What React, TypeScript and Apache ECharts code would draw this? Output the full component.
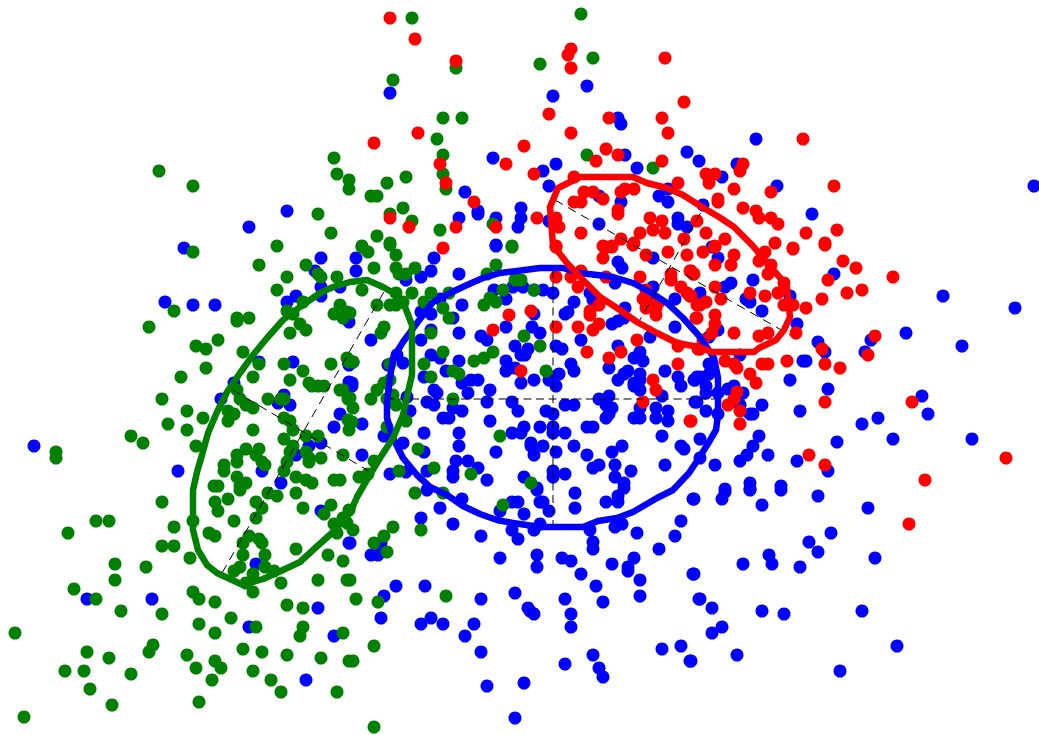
import { useEffect, useRef } from 'react'
import * as echarts from 'echarts'

type Pt = [number, number]

// values, on axes 0..1039 and 0..735 (y goes down)
const bluePoints: Pt[] = [
  [287,211],[249,227],[184,248],[390,93],[553,96],[587,86],[618,118],[621,124],[493,158],[556,164],[543,171],[549,186],
  [625,155],[637,168],[687,152],[699,161],[465,192],[478,211],[478,214],[459,218],[496,218],[521,208],[521,218],[518,227],
  [549,221],[599,196],[621,202],[599,224],[659,196],[668,189],[668,202],[678,218],[678,224],[687,227],[496,246],
  [756,139],[737,164],[722,177],[777,186],[1034,186],[812,214],[703,205],
  [321,258],[315,271],[321,287],[340,287],[321,296],[296,296],[287,302],[165,302],[193,305],[215,305],[349,322],[259,362],
  [293,362],[234,383],[349,382],[284,395],[278,403],[290,405],[221,399],[340,414],[334,427],[321,443],[309,446],[296,455],
  [34,446],[178,471],[262,471],[281,483],[349,365],
  [356,258],[356,271],[434,258],[431,271],[421,277],[406,280],[459,274],[496,245],[494,290],[513,287],[523,287],[534,290],
  [543,290],[553,293],[506,299],[440,299],[462,305],[421,312],[431,314],[453,318],[431,330],[459,333],[421,340],[481,336],
  [487,340],[506,327],[534,314],[532,327],[540,333],[515,346],[528,349],[521,355],[525,355],[565,314],[568,312],[574,302],
  [590,293],[593,300],[581,340],[556,346],[562,349],[571,364],[574,371],[431,355],[440,358],[459,361],[506,361],[515,368],
  [506,371],[446,371],[424,377],[462,383],[471,380],[478,380],[468,393],[434,390],[437,393],[490,390],[521,383],[534,380],
  [549,380],[559,374],[556,386],[427,402],[434,405],[453,408],[462,411],[443,418],[449,418],[487,402],[512,402],[518,411],
  [490,421],[546,411],[553,414],[540,427],[553,427],[553,433],[524,427],[512,433],[521,433],[424,433],[459,433],[459,446],
  [565,433],[531,443],[531,446],[543,446],[534,455],[496,452],[556,452],[574,446],[587,455],[587,427],[593,427],[565,405],
  [574,405],[599,399],[609,396],[606,405],[612,408],[609,414],[606,418],[634,418],[640,418],[640,408],[656,408],[656,418],
  [668,411],[668,421],[662,436],[681,446],[684,449],[662,396],[695,402],[622,446],[612,452],[615,465],[599,465],[593,468],
  [631,471],[665,465],[615,477],[624,483],[624,488],[565,474],[553,471],[553,477],[524,477],[537,488],[487,480],[456,461],
  [453,471],[453,477],[468,461],[478,468],[427,471],[390,474],[406,472],[362,455],[424,452],[403,443],[384,436],[362,424],
  [410,411],[618,346],[640,352],[634,358],[643,361],[609,368],[628,371],[624,374],[618,380],[640,374],[640,380],[634,383],
  [634,386],[640,390],[665,371],[678,377],[695,380],[681,386],[700,377],[675,327],[650,337],[675,299],[653,287],[625,308],
  [615,283],[653,258],[618,262],[622,268],[612,324],[618,321],[624,318],[397,355],[403,363],[353,362],[352,383],[352,386],
  [388,365],[371,340],[407,397],
  [712,247],[718,258],[834,274],[753,280],[731,283],[725,287],[700,293],[790,296],[746,299],[750,302],[762,311],[797,324],
  [718,330],[709,337],[943,296],[1015,308],[906,333],[962,346],[871,340],[818,342],[825,352],[865,352],[803,361],[806,361],
  [740,355],[709,364],[712,368],[709,374],[697,377],[694,380],[706,386],[706,393],[718,393],[728,389],[734,386],[743,393],
  [740,405],[762,405],[790,380],[828,389],[697,402],[706,411],[718,414],[750,414],[753,414],[800,411],[922,396],[928,414],
  [878,418],[862,424],[893,439],[972,439],[837,442],[759,436],[700,439],[753,446],[747,455],[740,461],[768,455],[797,461],
  [715,465],[828,471],[700,458],[725,489],[750,483],[750,489],[781,486],
  [321,511],[349,543],[256,564],[87,599],[152,599],[318,608],[249,627],[334,636],[306,680],
  [427,490],[462,499],[440,508],[421,518],[453,524],[481,536],[500,511],[512,502],[518,502],[524,514],[537,490],[540,502],
  [543,502],[549,511],[540,524],[512,530],[518,539],[534,530],[575,493],[575,508],[606,502],[618,496],[618,502],[590,530],
  [593,542],[593,549],[615,527],[622,524],[637,533],[693,499],[681,521],[675,536],[659,549],[500,558],[537,555],[537,567],
  [562,558],[571,561],[581,574],[612,564],[634,558],[628,567],[628,571],[640,580],[693,574],[596,586],[603,602],[640,596],
  [699,599],[565,599],[515,593],[481,599],[425,586],[396,586],[384,596],[381,618],[431,618],[421,624],[443,624],[474,624],
  [465,636],[481,652],[528,608],[534,614],[530,611],[571,614],[571,627],[565,664],[593,655],[599,668],[603,677],[662,649],
  [681,646],[690,661],[487,686],[524,683],[515,718],[371,555],[378,555],[381,543],[350,543],
  [694,499],[722,499],[725,492],[750,490],[762,505],[781,490],[818,496],[868,508],[831,533],[809,542],[818,552],[875,558],
  [769,555],[772,564],[743,564],[800,567],[694,574],[700,599],[712,608],[762,611],[784,614],[862,611],[722,627],[712,633],
  [737,655],[897,646],[840,671],[691,661],
]

const greenPoints: Pt[] = [
  [159,171],[193,186],[334,158],[337,174],[349,180],[349,189],[318,214],[331,233],[277,246],
  [412,18],[581,14],[456,68],[540,64],[593,58],[393,80],[443,118],[462,118],[437,139],[443,155],[443,174],[446,189],[406,177],
  [387,183],[371,196],[377,196],[403,208],[390,214],[412,221],[440,230],[377,236],[390,243],[362,246],[493,224],[512,246],
  [587,155],[653,168],
  [193,252],[259,265],[306,265],[318,274],[321,277],[287,277],[337,277],[277,290],[303,302],[174,311],[149,327],[287,311],
  [293,314],[237,318],[237,321],[249,318],[300,324],[306,330],[290,333],[340,305],[334,314],[343,318],[347,312],[218,340],
  [196,346],[206,349],[243,352],[259,364],[206,368],[284,364],[303,371],[331,364],[347,358],[349,362],[181,377],[253,377],
  [290,380],[309,383],[312,386],[318,386],[324,386],[340,390],[343,390],[348,399],[237,390],[240,399],[246,405],[253,408],
  [268,399],[281,399],[284,399],[162,399],[187,411],[203,418],[228,411],[234,414],[228,421],[168,424],[187,430],[253,430],
  [284,418],[290,421],[293,430],[131,436],[143,443],[284,439],[306,436],[318,436],[196,446],[293,446],[290,452],[306,452],
  [309,458],[309,462],[321,458],[343,455],[349,430],[348,420],[56,452],[56,458],[246,449],[259,449],[237,455],[237,462],
  [256,455],[262,462],[265,465],[224,465],[224,471],[287,462],[284,471],[237,477],[296,477],[306,480],[312,483],[246,483],
  [240,486],[334,480],[340,480],[214,486],[218,486],[268,493],[296,493],
  [362,247],[368,252],[390,245],[396,255],[374,268],[396,268],[399,274],[406,274],[415,268],[512,247],[496,265],[487,274],
  [515,280],[521,280],[503,290],[534,290],[490,298],[496,302],[484,305],[449,293],[431,293],[424,302],[443,308],[449,318],
  [412,293],[396,293],[390,305],[396,305],[403,302],[362,290],[377,305],[384,327],[381,333],[431,333],[443,352],[424,364],
  [431,377],[453,371],[459,374],[474,361],[484,358],[493,352],[524,336],[540,346],[546,371],[453,399],[390,364],[390,380],
  [384,383],[377,390],[371,399],[387,399],[393,395],[393,402],[396,405],[406,421],[387,427],[500,436],[418,449],[374,461],
  [399,471],[434,468],[471,474],[531,483],[359,477],[368,474],[415,493],[443,493],[350,313],[353,362],[350,398],[353,408],
  [352,422],
  [162,502],[96,521],[109,521],[68,533],[174,527],[193,521],[162,546],[174,546],[209,533],[215,536],[215,502],[218,511],
  [228,499],[240,490],[256,502],[262,508],[256,518],[234,521],[277,496],[303,508],[331,505],[324,514],[334,524],[343,518],
  [337,533],[349,510],[347,523],[249,536],[243,543],[259,539],[262,543],[243,555],[265,555],[296,549],[328,555],[343,561],
  [190,558],[115,564],[146,567],[115,580],[74,589],[96,599],[234,571],[240,567],[265,567],[253,574],[274,571],[246,583],
  [281,583],[318,580],[347,580],[193,592],[199,599],[215,602],[253,592],[287,605],[303,608],[162,614],[121,611],[15,633],
  [199,624],[215,633],[231,618],[256,627],[303,627],[300,636],[343,633],[243,649],[262,652],[287,655],[321,658],[349,661],
  [153,645],[149,652],[87,652],[109,658],[187,655],[215,661],[221,668],[196,668],[253,671],[271,680],[212,680],[281,692],
  [337,692],[65,671],[84,671],[131,674],[90,689],[112,705],[199,702],[24,717],
  [503,505],[393,527],[353,530],[384,536],[374,543],[387,552],[421,530],[446,596],[356,599],[378,602],[374,646],[353,661],
  [374,727],[350,580],
]

const redPoints: Pt[] = [
  [390,18],[415,39],[456,61],[571,49],[568,55],[571,68],[665,58],[684,102],[662,118],[668,133],[609,118],[549,114],[571,133],
  [418,133],[374,143],[524,146],[440,164],[446,183],[506,164],[534,174],[606,149],[618,155],[596,161],[662,161],[678,183],
  [574,177],[584,192],[593,192],[581,202],[574,202],[603,199],[621,192],[625,189],[634,189],[618,210],[618,214],[650,218],
  [662,221],[653,230],[665,233],[640,233],[634,243],[621,239],[612,246],[603,246],[581,233],[556,218],[559,227],[537,218],
  [496,227],[456,227],[409,227],[390,218],[474,202],[684,239],[697,221],[556,246],[443,248],
  [803,139],[743,164],[740,171],[706,174],[715,174],[709,183],[734,189],[834,186],[771,192],[718,199],[718,202],[743,208],
  [756,211],[759,218],[771,218],[778,224],[706,233],[806,233],[837,230],[725,239],[715,246],[775,243],[793,248],[825,243],
  [509,315],[531,311],[493,330],[556,277],[571,277],[581,271],[578,287],[556,327],[578,327],[606,277],[640,277],[603,258],
  [599,305],[590,311],[590,315],[599,324],[593,330],[587,352],[621,352],[609,358],[637,340],[521,371],[653,380],[656,390],
  [643,402],[690,421],[678,364],[678,346],[698,349],[697,318],[646,290],[643,299],[650,302],[659,302],[646,308],[656,308],
  [656,315],[671,274],[671,280],[681,287],[687,293],[690,296],[690,271],[693,274],[668,252],[687,255],[646,255],[697,305],
  [556,247],[606,247],[612,247],[633,245],
  [703,252],[715,247],[734,255],[731,265],[715,265],[765,252],[759,261],[771,265],[768,274],[784,283],[793,249],[825,245],
  [843,261],[856,268],[893,277],[828,280],[847,293],[862,290],[822,299],[806,308],[784,305],[793,305],[778,293],[765,296],
  [750,293],[715,287],[721,299],[706,302],[700,305],[691,296],[691,271],[694,274],[696,318],[715,315],[715,324],[712,333],
  [703,340],[734,333],[759,336],[768,333],[796,333],[700,349],[725,361],[734,364],[737,368],[762,364],[768,364],[787,361],
  [822,349],[825,364],[840,368],[875,336],[868,355],[750,374],[756,383],[737,392],[734,399],[728,405],[740,411],[740,424],
  [825,402],[912,402],[1006,458],[809,455],[825,465],[925,480],[909,524],[691,421],
]

const blueOutline: Pt[] = [
  [540,268],[563,268],[580,273],[597,275],[613,277],[633,283],[650,292],[667,303],[683,318],[700,337],[714,358],[718,378],
  [718,415],[716,430],[709,442],[699,458],[689,473],[673,490],[657,498],[633,512],[617,518],[598,521],[583,527],[540,527],
  [513,523],[497,520],[480,514],[463,506],[447,495],[430,487],[417,475],[403,458],[393,438],[387,418],[387,402],[390,378],
  [393,358],[403,342],[417,323],[433,302],[450,293],[467,285],[483,278],[500,273],[517,271],[540,268],
]
const greenOutline: Pt[] = [
  [350,282],[367,280],[383,287],[397,295],[405,307],[412,325],[412,375],[408,392],[403,415],[393,438],[380,458],[368,478],
  [357,497],[350,513],[333,532],[313,550],[300,562],[283,570],[263,579],[243,585],[230,579],[217,573],[207,565],[198,550],
  [193,530],[193,490],[197,472],[202,455],[208,433],[217,412],[227,392],[240,373],[253,355],[267,338],[283,320],[300,307],
  [320,293],[333,287],[350,282],
]
const redOutline: Pt[] = [
  [550,207],[558,188],[580,177],[633,177],[647,183],[667,188],[683,195],[702,207],[719,217],[734,227],[752,245],[769,265],
  [782,280],[787,288],[790,317],[784,330],[776,340],[759,348],[754,352],[712,352],[699,347],[677,343],[657,333],[637,322],
  [617,308],[600,297],[583,280],[567,263],[553,245],[550,207],
]

const blueAxes: Pt[][] = [[[386,399],[718,399]], [[553,270],[553,527]]]
const greenAxes: Pt[][] = [[[222,573],[385,290]], [[233,390],[372,473]]]
const redAxes: Pt[][] = [[[555,200],[790,335]], [[637,325],[705,205]]]

function groupSeries(points: Pt[], outline: Pt[], axes: Pt[][], color: string, axisStyle: object) {
  return [
    {
      type: 'scatter',
      data: points,
      symbolSize: 13,
      itemStyle: { color, opacity: 1 },
      clip: false,
    },
    ...axes.map(a => ({
      type: 'line',
      data: a,
      symbol: 'none',
      lineStyle: axisStyle,
    })),
    {
      type: 'line',
      data: outline,
      symbol: 'none',
      smooth: false,
      lineStyle: { color, width: 6.5, cap: 'round', join: 'round' },
    },
  ]
}

export default function App() {
  const containerRef = useRef<HTMLDivElement>(null)

  useEffect(() => {
    if (!containerRef.current) return
    const chart = echarts.init(containerRef.current, undefined, { renderer: 'svg' })
    // the level blue axes sit across two pixel rows in the picture, so they read as wider and grey
    const levelAxis = { color: 'rgba(0,0,0,0.5)', width: 2, type: [8, 4.5] }
    const tiltedAxis = { color: '#000', width: 1, type: [9, 6] }
    chart.setOption({
      animation: false,
      backgroundColor: '#fff',
      grid: { left: 0, right: 0, top: 0, bottom: 0 },
      xAxis: { type: 'value', min: 0, max: 1039, show: false },
      yAxis: { type: 'value', min: 0, max: 735, inverse: true, show: false },
      series: [
        ...groupSeries(bluePoints, blueOutline, blueAxes, '#0000ff', levelAxis),
        ...groupSeries(greenPoints, greenOutline, greenAxes, '#008000', tiltedAxis),
        ...groupSeries(redPoints, redOutline, redAxes, '#ff0000', tiltedAxis),
      ],
    })
    return () => chart.dispose()
  }, [])

  return <div ref={containerRef} style={{ position: 'absolute', left: 0, top: 0, width: 1039, height: 735 }} />
}
